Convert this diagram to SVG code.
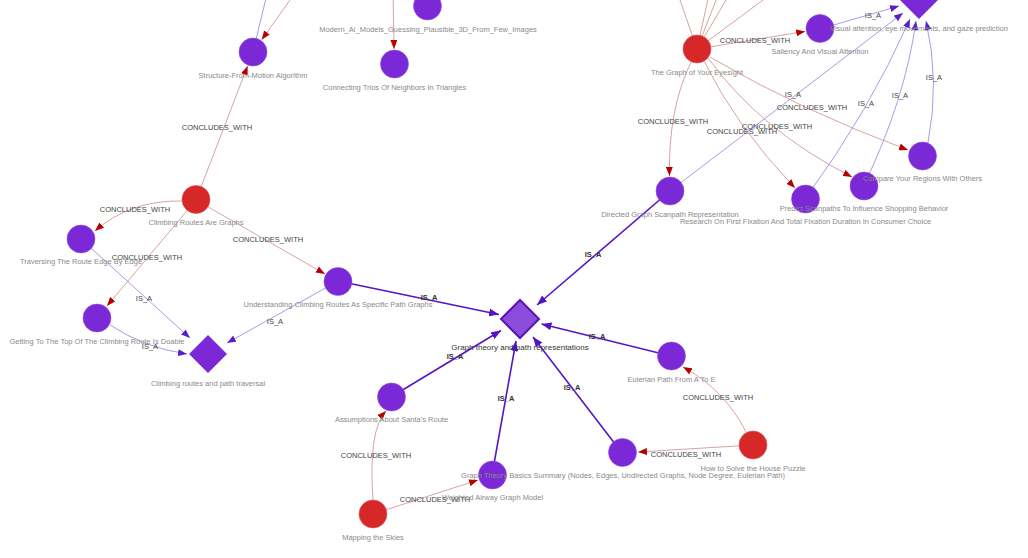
<svg xmlns="http://www.w3.org/2000/svg" width="1028" height="558" viewBox="0 0 1028 558">
<style>
.bg{fill:#ffffff}
.c{fill:none;stroke:#c97a7a;stroke-width:0.7}
.i{fill:none;stroke:#8f84e0;stroke-width:0.8}
.t{fill:none;stroke:#5716c6;stroke-width:1.6}
.p{fill:#7b28d6;stroke:#8f55e0;stroke-width:0.6}
.r{fill:#d62828;stroke:#e05555;stroke-width:0.6}
.d{fill:#7b28d6}
.dc{fill:#8d4ddb;stroke:#5814b4;stroke-width:2}
text{font-family:"Liberation Sans",Arial,sans-serif;font-size:7.5px;text-anchor:middle}
.nl{fill:#8a8a8a}
.cl{fill:#333333;font-size:8px}
.el{fill:#444444}
.eb{fill:#333333;font-weight:bold}
</style>
<defs>
<marker id="mr" markerUnits="userSpaceOnUse" markerWidth="9" markerHeight="7" viewBox="0 0 9 7" refX="9" refY="3.5" orient="auto"><path d="M0,0 L9,3.5 L0,7 z" fill="#b80000"/></marker>
<marker id="mb" markerUnits="userSpaceOnUse" markerWidth="9" markerHeight="7" viewBox="0 0 9 7" refX="9" refY="3.5" orient="auto"><path d="M0,0 L9,3.5 L0,7 z" fill="#5a1fcc"/></marker>
<marker id="mt" markerUnits="userSpaceOnUse" markerWidth="10" markerHeight="8" viewBox="0 0 10 8" refX="10" refY="4" orient="auto"><path d="M0,0 L10,4 L0,8 z" fill="#5214c4"/></marker>
</defs>
<rect class="bg" x="0" y="0" width="1028" height="558"/>
<g id="connectors">
<path class="c" d="M196,200 L247.6,66" marker-end="url(#mr)"/>
<path class="c" d="M300,-14 L261.7,39.8" marker-end="url(#mr)"/>
<path class="c" d="M393,-10 L394,49" marker-end="url(#mr)"/>
<path class="c" d="M697,49 L676.5,-10"/>
<path class="c" d="M697,49 L710,-10"/>
<path class="c" d="M697,49 L720,-10"/>
<path class="c" d="M697,49 L732,-10"/>
<path class="c" d="M697,49 L776.5,-10"/>
<path class="c" d="M697,49 L805.2,31.4" marker-end="url(#mr)"/>
<path class="c" d="M691,62 Q668,110 669.5,176" marker-end="url(#mr)"/>
<path class="c" d="M704,61 Q735,125 795,188" marker-end="url(#mr)"/>
<path class="c" d="M708,58 Q760,130 852,177" marker-end="url(#mr)"/>
<path class="c" d="M710,57 Q800,110 908,150" marker-end="url(#mr)"/>
<path class="c" d="M182,201 Q130,200 95,231" marker-end="url(#mr)"/>
<path class="c" d="M196,200 L107,306" marker-end="url(#mr)"/>
<path class="c" d="M196,200 L325,274" marker-end="url(#mr)"/>
<path class="c" d="M373,500 Q368,430 386,411" marker-end="url(#mr)"/>
<path class="c" d="M373,514 L478,480" marker-end="url(#mr)"/>
<path class="c" d="M746,432 Q725,390 683,367" marker-end="url(#mr)"/>
<path class="c" d="M753,445 L638,452" marker-end="url(#mr)"/>
<path class="i" d="M253,52 L268,-10"/>
<path class="i" d="M820,29 L899,6" marker-end="url(#mb)"/>
<path class="i" d="M670,191 L903,13" marker-end="url(#mb)"/>
<path class="i" d="M805,199 Q870,110 910,19" marker-end="url(#mb)"/>
<path class="i" d="M864,185 Q905,100 916,21" marker-end="url(#mb)"/>
<path class="i" d="M928,143 Q940,80 926,21" marker-end="url(#mb)"/>
<path class="i" d="M81,239 L190,338" marker-end="url(#mb)"/>
<path class="i" d="M110,325 Q145,348 187,354" marker-end="url(#mb)"/>
<path class="i" d="M338,281 L227,343" marker-end="url(#mb)"/>
<path class="t" d="M338,281 L499,314.5" marker-end="url(#mt)"/>
<path class="t" d="M670,191 L537,305" marker-end="url(#mt)"/>
<path class="t" d="M671,356 L541.5,324" marker-end="url(#mt)"/>
<path class="t" d="M391,397 L501,330.5" marker-end="url(#mt)"/>
<path class="t" d="M492,475 L516,341" marker-end="url(#mt)"/>
<path class="t" d="M622,453 L533,337" marker-end="url(#mt)"/>
<text class="el" x="217" y="130">CONCLUDES_WITH</text>
<text class="el" x="755" y="43">CONCLUDES_WITH</text>
<text class="el" x="673" y="124">CONCLUDES_WITH</text>
<text class="el" x="742" y="134">CONCLUDES_WITH</text>
<text class="el" x="777" y="129">CONCLUDES_WITH</text>
<text class="el" x="812" y="110">CONCLUDES_WITH</text>
<text class="el" x="135" y="212">CONCLUDES_WITH</text>
<text class="el" x="147" y="260">CONCLUDES_WITH</text>
<text class="el" x="268" y="242">CONCLUDES_WITH</text>
<text class="el" x="376" y="458">CONCLUDES_WITH</text>
<text class="el" x="435" y="502">CONCLUDES_WITH</text>
<text class="el" x="718" y="400">CONCLUDES_WITH</text>
<text class="el" x="686" y="457">CONCLUDES_WITH</text>
<text class="el" x="873" y="18">IS_A</text>
<text class="el" x="793" y="97">IS_A</text>
<text class="el" x="866" y="106">IS_A</text>
<text class="el" x="900" y="98">IS_A</text>
<text class="el" x="934" y="80">IS_A</text>
<text class="el" x="144" y="301">IS_A</text>
<text class="el" x="150" y="349">IS_A</text>
<text class="el" x="275" y="324">IS_A</text>
<text class="eb" x="429" y="300">IS_A</text>
<text class="eb" x="593" y="257">IS_A</text>
<text class="eb" x="597" y="339">IS_A</text>
<text class="eb" x="455" y="359">IS_A</text>
<text class="eb" x="506" y="401">IS_A</text>
<text class="eb" x="572" y="390">IS_A</text>
</g>
<g id="n-structure"><circle class="p" cx="253" cy="52" r="14"/><text class="nl" x="253" y="78">Structure-From-Motion Algorithm</text></g>
<g id="n-modernai"><circle class="p" cx="427.5" cy="6" r="14"/><text class="nl" x="428" y="32">Modern_Ai_Models_Guessing_Plausible_3D_From_Few_Images</text></g>
<g id="n-trios"><circle class="p" cx="394.5" cy="64" r="14"/><text class="nl" x="394.5" y="90">Connecting Trios Of Neighbors In Triangles</text></g>
<g id="n-eyesight"><circle class="r" cx="697" cy="49" r="14"/><text class="nl" x="697" y="75">The Graph of Your Eyesight</text></g>
<g id="n-saliency"><circle class="p" cx="820" cy="28.5" r="14"/><text class="nl" x="820" y="54">Saliency And Visual Attention</text></g>
<g id="n-visual"><polygon class="d" points="919,-19 938,0 919,19 900,0"/><text class="nl" x="919" y="31">Visual attention, eye movements, and gaze prediction</text></g>
<g id="n-directed"><circle class="p" cx="670" cy="191" r="14"/><text class="nl" x="670" y="217">Directed Graph Scanpath Representation</text></g>
<g id="n-research"><circle class="p" cx="805.5" cy="199" r="14"/><text class="nl" x="805.5" y="224">Research On First Fixation And Total Fixation Duration In Consumer Choice</text></g>
<g id="n-predict"><circle class="p" cx="864" cy="186" r="14"/><text class="nl" x="864" y="211">Predict Scanpaths To Influence Shopping Behavior</text></g>
<g id="n-compare"><circle class="p" cx="922.5" cy="156" r="14"/><text class="nl" x="922.5" y="181">Compare Your Regions With Others</text></g>
<g id="n-climbing"><circle class="r" cx="196" cy="199.5" r="14"/><text class="nl" x="196" y="225">Climbing Routes Are Graphs</text></g>
<g id="n-traversing"><circle class="p" cx="81" cy="239" r="14"/><text class="nl" x="81" y="264">Traversing The Route Edge By Edge</text></g>
<g id="n-getting"><circle class="p" cx="97" cy="318" r="14"/><text class="nl" x="97" y="344">Getting To The Top Of The Climbing Route Is Doable</text></g>
<g id="n-climbdiamond"><polygon class="d" points="208,335 227,354 208,373 189,354"/><text class="nl" x="208" y="385.5">Climbing routes and path traversal</text></g>
<g id="n-understanding"><circle class="p" cx="338" cy="281.5" r="14"/><text class="nl" x="338" y="307">Understanding Climbing Routes As Specific Path Graphs</text></g>
<g id="n-eulerian"><circle class="p" cx="671.5" cy="356" r="14"/><text class="nl" x="671.5" y="382">Eulerian Path From A To E</text></g>
<g id="n-house"><circle class="r" cx="753" cy="445" r="14"/><text class="nl" x="753" y="471">How to Solve the House Puzzle</text></g>
<g id="n-weighted"><circle class="p" cx="492.5" cy="475" r="14"/><text class="nl" x="492.5" y="500">Weighted Airway Graph Model</text></g>
<g id="n-summary"><circle class="p" cx="622.5" cy="452.5" r="14"/><text class="nl" x="623" y="478">Graph Theory Basics Summary (Nodes, Edges, Undirected Graphs, Node Degree, Eulerian Path)</text></g>
<g id="n-assumptions"><circle class="p" cx="391.5" cy="397" r="14"/><text class="nl" x="391.5" y="422">Assumptions About Santa's Route</text></g>
<g id="n-mapping"><circle class="r" cx="373" cy="514" r="14"/><text class="nl" x="373" y="540">Mapping the Skies</text></g>
<g id="n-central"><polygon class="dc" points="520,300 539,319 520,338 501,319"/><text class="cl" x="520" y="349.5">Graph theory and path representations</text></g>
</svg>
